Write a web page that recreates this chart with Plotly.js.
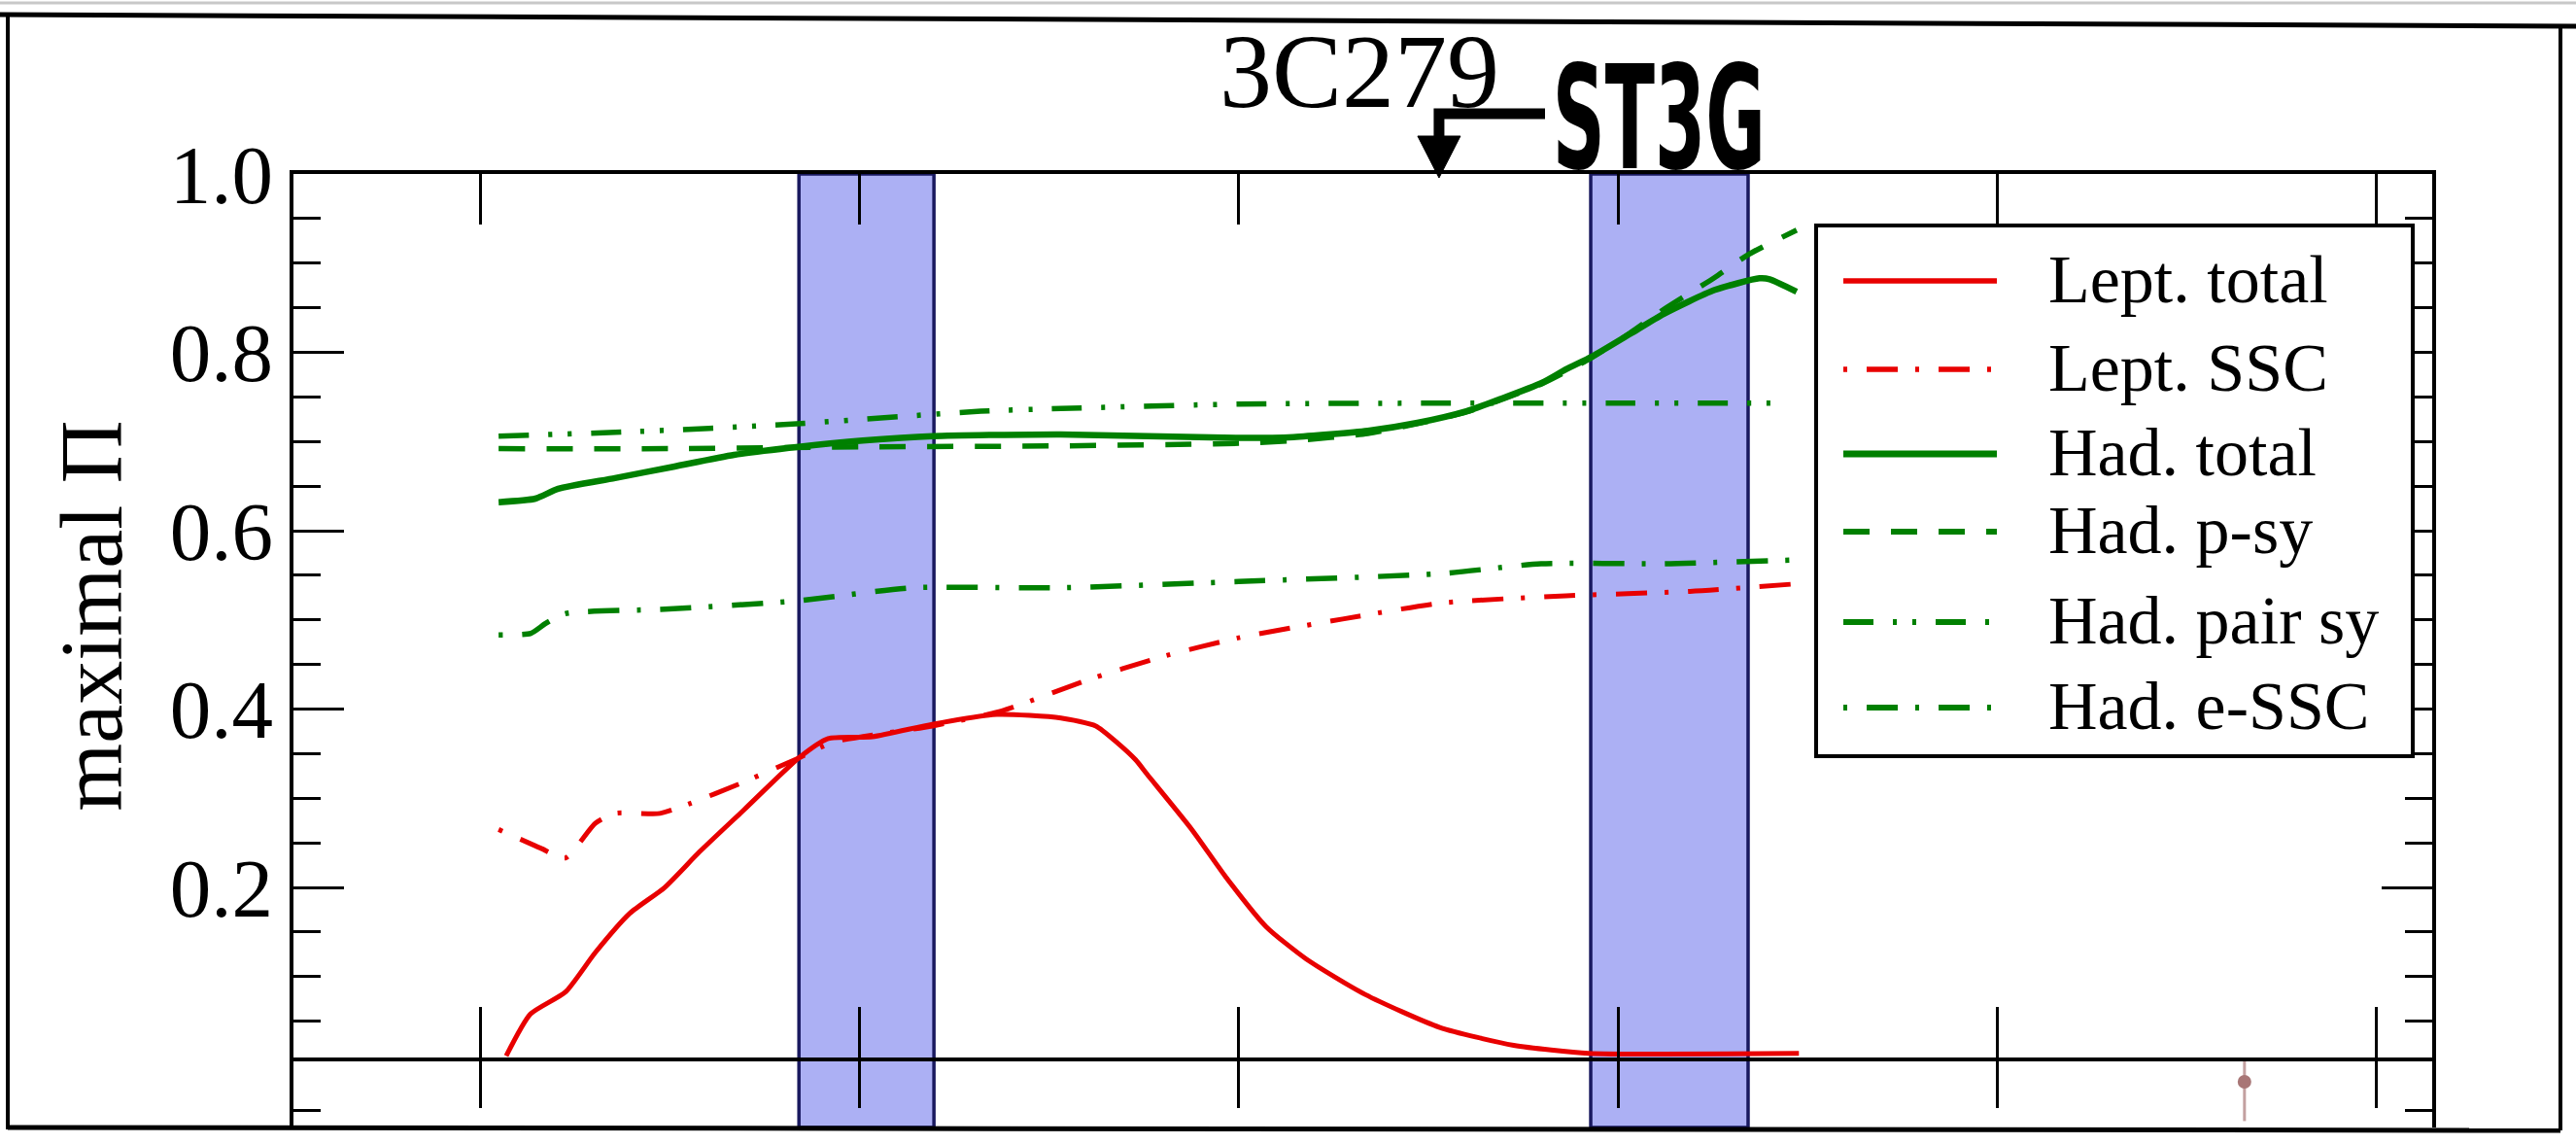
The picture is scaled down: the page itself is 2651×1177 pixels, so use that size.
<!DOCTYPE html>
<html>
<head>
<meta charset="utf-8">
<script src="https://cdn.plot.ly/plotly-3.0.1.min.js"></script>
<style>
  html, body { margin: 0; padding: 0; background: #ffffff; }
  #chart { width: 2651px; height: 1177px; }
</style>
</head>
<body>
<div id="chart"></div>
<script>
// ---- axis ticks (frequency decades are unlabelled) ----
const xTicks = [0, 1, 2, 3, 4, 5];
const xRange = [-0.493, 5.147];
const yTicks = [0.2, 0.4, 0.6, 0.8, 1.0];
const yTickText = ['0.2', '0.4', '0.6', '0.8', '1.0'];
const yMinor = [0.05, 0.1, 0.15, 0.25, 0.3, 0.35, 0.45, 0.5, 0.55, 0.65, 0.7, 0.75, 0.85, 0.9, 0.95];
const yRange = [0.0093, 1.0];
const yLowerRange = [-0.0692, 0.0093];
const yLowerTicks = [-0.05];

// ---- shaded energy bands ----
const bandLo = [0.840, 2.928];
const bandHi = [1.196, 3.343];

// ---- series ----
const seriesNames = ['Lept. total', 'Lept. SSC', 'Had. total', 'Had. p-sy', 'Had. pair sy', 'Had. e-SSC'];

const leptTotalX = [0.068, 0.132, 0.225, 0.303, 0.394, 0.486, 0.578, 0.695, 0.839, 0.917, 1.034, 1.192, 1.362, 1.531, 1.623, 1.680, 1.728, 1.758, 1.876, 1.967, 2.072, 2.177, 2.333, 2.530, 2.725, 2.922, 3.117, 3.477];
const leptTotalY = [0.011, 0.058, 0.083, 0.127, 0.171, 0.200, 0.240, 0.287, 0.345, 0.367, 0.369, 0.383, 0.394, 0.390, 0.381, 0.362, 0.343, 0.327, 0.265, 0.211, 0.156, 0.120, 0.080, 0.043, 0.023, 0.014, 0.013, 0.014];

const leptSSCX = [0.048, 0.159, 0.224, 0.303, 0.355, 0.473, 0.552, 0.682, 0.839, 0.931, 1.192, 1.375, 1.597, 1.792, 2.000, 2.274, 2.536, 2.863, 3.190, 3.457];
const leptSSCY = [0.265, 0.244, 0.233, 0.272, 0.283, 0.283, 0.294, 0.316, 0.345, 0.363, 0.381, 0.398, 0.432, 0.458, 0.480, 0.501, 0.519, 0.527, 0.532, 0.540];

const hadTotalX = [0.048, 0.145, 0.205, 0.355, 0.512, 0.669, 0.839, 1.008, 1.193, 1.531, 2.000, 2.144, 2.340, 2.471, 2.600, 2.692, 2.800, 2.863, 2.930, 3.033, 3.120, 3.255, 3.373, 3.400, 3.471];
const hadTotalY = [0.632, 0.636, 0.647, 0.659, 0.672, 0.685, 0.694, 0.701, 0.706, 0.708, 0.704, 0.705, 0.712, 0.721, 0.734, 0.748, 0.766, 0.781, 0.795, 0.821, 0.843, 0.870, 0.883, 0.882, 0.868];

const hadPsyX = [0.048, 0.500, 1.000, 1.500, 2.000, 2.144, 2.340, 2.471, 2.600, 2.800, 2.930, 3.033, 3.120, 3.255, 3.345, 3.471];
const hadPsyY = [0.692, 0.692, 0.694, 0.695, 0.698, 0.701, 0.709, 0.720, 0.733, 0.765, 0.794, 0.822, 0.848, 0.884, 0.910, 0.937];

const hadPairX = [0.048, 0.400, 0.800, 1.320, 1.531, 2.000, 2.500, 3.000, 3.440];
const hadPairY = [0.706, 0.711, 0.719, 0.734, 0.737, 0.742, 0.743, 0.743, 0.743];

const hadESSCX = [0.048, 0.133, 0.172, 0.224, 0.486, 0.826, 1.139, 1.532, 2.000, 2.536, 2.797, 3.120, 3.457];
const hadESSCY = [0.483, 0.485, 0.496, 0.507, 0.512, 0.521, 0.536, 0.536, 0.543, 0.552, 0.563, 0.563, 0.567];

// point from the panel underneath
const lowerX = [4.652];
const lowerY = [-0.018];
const lowerErrUp = [0.023];
const lowerErrDown = [0.044];

// arrow target on the upper frame
const markerX = 2.528;

// ---- styling ----
const RED = 'rgb(232,0,0)';
const GREEN = 'rgb(0,128,0)';
const styles = [
  { color: RED,   width: 5,   dash: 'solid' },
  { color: RED,   width: 5,   dash: '4px,20px,32px,18px' },
  { color: GREEN, width: 6.5, dash: 'solid' },
  { color: GREEN, width: 5.5, dash: '27px,22px' },
  { color: GREEN, width: 5.5, dash: '31px,20px,4px,16px,4px,20px' },
  { color: GREEN, width: 5.5, dash: '4px,20px,32px,18px' }
];
const seriesX = [leptTotalX, leptSSCX, hadTotalX, hadPsyX, hadPairX, hadESSCX];
const seriesY = [leptTotalY, leptSSCY, hadTotalY, hadPsyY, hadPairY, hadESSCY];

const W = 2651, H = 1177;
const M = { l: 302, r: 148, t: 179, b: 17 };
const plotW = W - M.l - M.r;
const plotH = H - M.t - M.b;
const splitFrac = 72 / plotH;            // height share of the lower strip
const pX = px => (px - M.l) / plotW;     // page pixel -> paper
const pY = py => (H - M.b - py) / plotH;

const traces = seriesNames.map((name, i) => ({
  type: 'scatter', mode: 'lines', name: name,
  x: seriesX[i], y: seriesY[i], xaxis: 'x', yaxis: 'y',
  line: { color: styles[i].color, width: styles[i].width, dash: styles[i].dash, shape: 'spline', smoothing: 0.6 },
  showlegend: false, hoverinfo: 'skip'
}));

traces.push({
  type: 'scatter', mode: 'markers', name: 'lower panel',
  x: lowerX, y: lowerY, xaxis: 'x2', yaxis: 'y2',
  marker: { color: 'rgb(168,118,118)', size: 14 },
  error_y: { type: 'data', symmetric: false, array: lowerErrUp, arrayminus: lowerErrDown,
             color: 'rgba(170,120,120,0.7)', thickness: 3, width: 0 },
  showlegend: false, hoverinfo: 'skip', cliponaxis: false
});

const shapes = [];
// shaded bands across both panels
bandLo.forEach((lo, i) => {
  shapes.push({ type: 'rect', xref: 'x', yref: 'paper', x0: lo, x1: bandHi[i], y0: 0, y1: 1,
    fillcolor: 'rgb(172,176,244)', line: { color: 'rgb(25,25,95)', width: 3.5 }, layer: 'below' });
});

// page frame
const frameLine = (x0, y0, x1, y1, w, c) => ({ type: 'line', xref: 'paper', yref: 'paper',
  x0: pX(x0), y0: pY(y0), x1: pX(x1), y1: pY(y1), line: { color: c || '#000', width: w } });
shapes.push(frameLine(0, 3, W, 3, 3, 'rgb(200,200,200)'));
shapes.push(frameLine(0, 15, W, 27, 5));
shapes.push(frameLine(8, 15, 8, 1162, 4));
shapes.push(frameLine(2635, 26, 2635, 1163, 4));
shapes.push(frameLine(8, 1160, 2635, 1163, 5));

// elbow arrow pointing at the upper frame
const arrowPx = M.l + (markerX - xRange[0]) / (xRange[1] - xRange[0]) * plotW;
shapes.push({ type: 'path', xref: 'paper', yref: 'paper',
  path: `M ${pX(1590)} ${pY(117)} L ${pX(arrowPx)} ${pY(117)} L ${pX(arrowPx)} ${pY(145)}`,
  line: { color: '#000', width: 11 } });
shapes.push({ type: 'path', xref: 'paper', yref: 'paper',
  path: `M ${pX(arrowPx - 22)} ${pY(140)} L ${pX(arrowPx + 22)} ${pY(140)} L ${pX(arrowPx)} ${pY(183)} Z`,
  fillcolor: '#000', line: { color: '#000', width: 1 } });

// legend box
const legL = 1869, legR = 2483, legT = 232, legB = 778;
shapes.push({ type: 'rect', xref: 'paper', yref: 'paper', x0: pX(legL), x1: pX(legR), y0: pY(legB), y1: pY(legT),
  fillcolor: '#ffffff', line: { color: '#000', width: 4 }, layer: 'above' });
const rowY = [289, 380, 467, 547, 640, 728];
const annotations = [];
seriesNames.forEach((name, i) => {
  shapes.push({ type: 'line', xref: 'paper', yref: 'paper', x0: pX(1897), x1: pX(2055), y0: pY(rowY[i]), y1: pY(rowY[i]),
    line: { color: styles[i].color, width: styles[i].width + 0.5, dash: styles[i].dash }, layer: 'above' });
  annotations.push({ xref: 'paper', yref: 'paper', x: pX(2106), y: pY(rowY[i] - 2), xanchor: 'left', yanchor: 'middle',
    text: name, showarrow: false, font: { family: 'Liberation Serif, Times New Roman, serif', size: 70, color: '#000' } });
});

annotations.push({ xref: 'paper', yref: 'paper', x: pX(1707), y: pY(122), xanchor: 'center', yanchor: 'middle',
  text: 'ST3G', showarrow: false,
  font: { family: 'Liberation Sans Narrow, DejaVu Sans Condensed, Arial Narrow, Liberation Sans, sans-serif', size: 148, weight: 700, color: '#000' } });

const layout = {
  width: W, height: H,
  margin: M,
  paper_bgcolor: '#ffffff', plot_bgcolor: '#ffffff',
  showlegend: false,
  title: { text: '3C279', xref: 'container', yref: 'container', x: 1399 / W, y: 1 - 72 / H,
           xanchor: 'center', yanchor: 'middle',
           font: { family: 'Liberation Serif, Times New Roman, serif', size: 108, color: '#000' } },
  xaxis: { range: xRange, anchor: 'y', tickmode: 'array', tickvals: xTicks, showticklabels: false,
           ticks: 'inside', ticklen: 52, tickwidth: 3, tickcolor: '#000',
           showline: true, linewidth: 4, linecolor: '#000', mirror: 'ticks',
           showgrid: false, zeroline: false, fixedrange: true },
  xaxis2: { range: xRange, anchor: 'y2', side: 'top', tickmode: 'array', tickvals: xTicks, showticklabels: false,
            ticks: 'inside', ticklen: 52, tickwidth: 3, tickcolor: '#000',
            showline: false, showgrid: false, zeroline: false, fixedrange: true },
  yaxis: { domain: [splitFrac, 1], range: yRange, anchor: 'x', tickmode: 'array', tickvals: yTicks, ticktext: yTickText,
           ticks: 'inside', ticklen: 52, tickwidth: 3, tickcolor: '#000',
           minor: { tickmode: 'array', tickvals: yMinor, ticks: 'inside', ticklen: 28, tickwidth: 3, tickcolor: '#000' },
           showline: true, linewidth: 4, linecolor: '#000', mirror: 'allticks',
           tickfont: { family: 'Liberation Serif, Times New Roman, serif', size: 85, color: '#000' },
           title: { text: 'maximal Π', standoff: 20,
                    font: { family: 'Liberation Serif, Times New Roman, serif', size: 90, color: '#000' } },
           showgrid: false, zeroline: false, fixedrange: true },
  yaxis2: { domain: [0, splitFrac], range: yLowerRange, anchor: 'x2', tickmode: 'array', tickvals: yLowerTicks,
            showticklabels: false, ticks: 'inside', ticklen: 28, tickwidth: 3, tickcolor: '#000',
            showline: true, linewidth: 4, linecolor: '#000', mirror: 'allticks',
            showgrid: false, zeroline: false, fixedrange: true },
  shapes: shapes,
  annotations: annotations
};

Plotly.newPlot('chart', traces, layout, { staticPlot: true, displayModeBar: false }).then(gd => {
  // squeeze the bold label horizontally to its condensed width
  const el = Array.from(gd.querySelectorAll('.annotation-text')).find(e => e.textContent === 'ST3G');
  if (el) {
    const bb = el.getBBox();
    const cx = bb.x + bb.width / 2;
    const s = Math.min(1, 219 / bb.width);
    const prev = el.getAttribute('transform') || '';
    el.setAttribute('transform', `${prev} translate(${cx},0) scale(${s},1) translate(${-cx},0)`);
  }
});
</script>
</body>
</html>
